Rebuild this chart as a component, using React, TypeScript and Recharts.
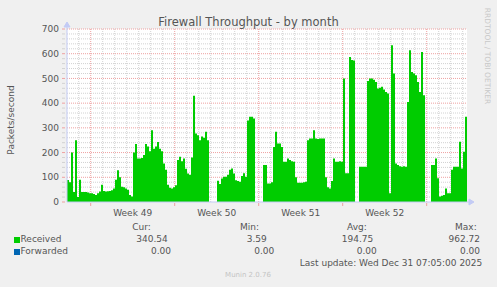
import { AreaChart, Area, XAxis, YAxis, CartesianGrid, ReferenceDot } from 'recharts';

// packets/second, one sample per 4 hours (2px), null = no data
const received1 = [
  89, 80, 200, 40, 250, 20, 90, 40, 40, 40,
  38, 35, 35, 32, 28, 35, 42, 70, 45, 42,
  44, 45, 48, 55, 90, 128, 100, 62, 60, 55,
  50, 28, 22, 200, 235, 176, 176, 178, 190, 235,
];
const received2 = [
  225, 205, 290, 215, 225, 243, 215, 205, 156, 130,
  70, 58, 55, 60, 68, 170, 183, 165, 176, 135,
  115, 110, 180, 430, 277, 270, 250, 265, 260, 284,
  250, 203, null, null, null, 86, 73, 95, 102, 102,
];
const received3 = [
  110, 130, 136, 115, 88, 85, 82, 105, 116, 102,
  330, 345, 345, 338, 432, null, null, null, 150, 150,
  75, 75, 80, 223, 284, 237, 237, 223, 163, 163,
  176, 170, 165, 163, 100, 78, 78, 78, 80, 82,
];
const received4 = [
  250, 257, 257, 290, 257, 255, 257, 257, 257, 100,
  60, 55, 85, 176, 163, 163, 165, 163, 500, 116,
  116, 587, 575, 573, 500, null, 143, 143, 143, 143,
  490, 500, 500, 495, 486, 459, 462, 466, 455, 445,
];
const received5 = [
  439, 35, 634, 520, 156, 150, 145, 143, 145, 143,
  405, 614, 526, 520, 513, 486, 445, 607, 432, 490,
  null, null, 150, 150, 176, 96, 22, 25, 28, 55,
  35, 35, 130, 143, 143, 143, 244, 136, 203, 345,
];

const weekLabels = ['Week 49', 'Week 50', 'Week 51', 'Week 52'];
const weekCenters = [32.85, 74.85, 116.85, 158.85];
const weekLines = [11.85, 53.85, 95.85, 137.85, 179.85];
const dayLines = [
  5.85, 17.85, 23.85, 29.85, 35.85, 41.85, 47.85, 59.85, 65.85, 71.85, 77.85, 83.85, 89.85,
  101.85, 107.85, 113.85, 119.85, 125.85, 131.85, 143.85, 149.85, 155.85, 161.85, 167.85,
  173.85, 185.85, 191.85, 197.85,
];
const yMajor = [100, 200, 300, 400, 500, 600, 700];
const yMinor = [
  20, 40, 60, 80, 120, 140, 160, 180, 220, 240, 260, 280, 320, 340, 360, 380,
  420, 440, 460, 480, 520, 540, 560, 580, 620, 640, 660, 680,
];
const yTicks = [0, ...yMinor, ...yMajor].sort((a, b) => a - b);

const statLabels = ['Cur:', 'Min:', 'Avg:', 'Max:'];
const receivedStats = ['340.54', '3.59', '194.75', '962.72'];
const forwardedStats = ['0.00', '0.00', '0.00', '0.00'];

const X_DOMAIN = [0, 200];
const Y_DOMAIN = [0, 700];

const received = [...received1, ...received2, ...received3, ...received4, ...received5];
const rows = received.map((v, i) => ({ t: i, received: v }));
rows.push({ t: received.length, received: received[received.length - 1] });

const FONT = 'DejaVu Sans';
const TXT = '#555555';
const MAJOR = '#eea0a0';
const MINOR = '#d2d2d2';
const AXIS = '#c3cbf5';

// map a value through the axis scale handed to the grid generator
function scaleOf(axis: any, v: number, lo: number, len: number, dom: number[], flip: boolean) {
  const s = axis && axis.scale;
  if (typeof s === 'function') return s(v);
  if (s && typeof s.map === 'function') return s.map(v);
  const f = (v - dom[0]) / (dom[1] - dom[0]);
  return flip ? lo + len * (1 - f) : lo + len * f;
}
const xs = (p: any, vals: number[]) =>
  vals.map((v) => scaleOf(p.xAxis, v, p.offset.left, p.offset.width, X_DOMAIN, false));
const ys = (p: any, vals: number[]) =>
  vals.map((v) => scaleOf(p.yAxis, v, p.offset.top, p.offset.height, Y_DOMAIN, true));

function XTick(props: any) {
  const { x, y, payload } = props;
  const wi = weekLines.indexOf(payload.value);
  if (wi >= 0) {
    return <line x1={x} x2={x} y1={y - 7} y2={y - 4} stroke={MAJOR} />;
  }
  const ci = weekCenters.indexOf(payload.value);
  return (
    <text x={x} y={y} dy="0.71em" textAnchor="middle" fill={TXT} fontSize={9} fontFamily={FONT}>
      {weekLabels[ci]}
    </text>
  );
}

function YTick(props: any) {
  const { x, y, payload } = props;
  const major = payload.value % 100 === 0;
  return (
    <g>
      <line x1={x + 3} x2={x + 6} y1={y} y2={y} stroke={major ? MAJOR : MINOR} />
      {major && (
        <text x={x} y={y} dy="0.355em" textAnchor="end" fill={TXT} fontSize={9} fontFamily={FONT}>
          {payload.value}
        </text>
      )}
    </g>
  );
}

const abs = (s: any) => ({
  position: 'absolute' as const,
  fontFamily: FONT,
  fontSize: 9,
  color: TXT,
  lineHeight: '12px',
  whiteSpace: 'nowrap' as const,
  ...s,
});

const headRight = [150.7, 259, 366.7, 476.7];
const recRight = [167.7, 266.7, 373.3, 480];
const fwdRight = [171, 274.3, 376.7, 480];

export default function App() {
  return (
    <div style={{ position: 'absolute', left: 0, top: 0, width: 497, height: 287, background: '#f0f0f0', overflow: 'hidden' }}>
      <AreaChart width={497} height={287} data={rows} margin={{ top: 29, right: 30, bottom: 55, left: 27 }}>
        <CartesianGrid
          fill="#ffffff"
          stroke={MINOR}
          strokeDasharray="1 1"
          horizontalCoordinatesGenerator={(p: any) => ys(p, yMinor)}
          verticalCoordinatesGenerator={(p: any) => xs(p, dayLines)}
        />
        <CartesianGrid
          stroke={MAJOR}
          strokeDasharray="1 1"
          horizontalCoordinatesGenerator={(p: any) => ys(p, yMajor)}
          verticalCoordinatesGenerator={(p: any) => xs(p, weekLines)}
        />
        <XAxis
          type="number"
          dataKey="t"
          domain={X_DOMAIN}
          ticks={[...weekLines, ...weekCenters].sort((a, b) => a - b)}
          interval={0}
          height={30}
          tickLine={false}
          axisLine={{ stroke: AXIS }}
          tick={<XTick />}
        />
        <YAxis
          type="number"
          domain={Y_DOMAIN}
          ticks={yTicks}
          interval={0}
          width={40}
          tickLine={false}
          axisLine={{ stroke: AXIS }}
          tick={<YTick />}
        />
        <Area
          type="stepAfter"
          dataKey="received"
          fill="#00cc00"
          fillOpacity={1}
          stroke="none"
          isAnimationActive={false}
          dot={false}
          activeDot={false}
        />
        <ReferenceDot
          x={200}
          y={0}
          ifOverflow="visible"
          shape={(p: any) => (
            <path d={`M${p.cx},${p.cy} L${p.cx + 2},${p.cy} M${p.cx + 2},${p.cy - 3} L${p.cx + 7},${p.cy} L${p.cx + 2},${p.cy + 3} Z`} stroke={AXIS} fill={AXIS} />
          )}
        />
        <ReferenceDot
          x={0}
          y={700}
          ifOverflow="visible"
          shape={(p: any) => (
            <path d={`M${p.cx},${p.cy} L${p.cx},${p.cy - 2} M${p.cx - 3},${p.cy - 2} L${p.cx},${p.cy - 7} L${p.cx + 3},${p.cy - 2} Z`} stroke={AXIS} fill={AXIS} />
          )}
        />
      </AreaChart>

      <div style={abs({ left: 0, width: 497, top: 14.5, textAlign: 'center', fontSize: 11.5, lineHeight: '14px' })}>
        Firewall Throughput - by month
      </div>
      <div style={abs({ left: 10.5, top: 120, transform: 'translate(-50%, -50%) rotate(-90deg)' })}>Packets/second</div>
      <div style={abs({ left: 487, top: 56, fontSize: 7.5, color: '#c8c8c8', transform: 'translate(-50%, -50%) rotate(90deg)' })}>
        RRDTOOL / TOBI OETIKER
      </div>

      {statLabels.map((s, i) => (
        <div key={s} style={abs({ right: 497 - headRight[i], top: 221.3 })}>{s}</div>
      ))}
      <div style={{ position: 'absolute', left: 14, top: 236.5, width: 6, height: 6, background: '#00cc00' }} />
      <div style={abs({ left: 20.5, top: 233.3 })}>Received</div>
      {receivedStats.map((s, i) => (
        <div key={'r' + i} style={abs({ right: 497 - recRight[i], top: 233.3 })}>{s}</div>
      ))}
      <div style={{ position: 'absolute', left: 14, top: 248.5, width: 6, height: 6, background: '#0066b3' }} />
      <div style={abs({ left: 20.5, top: 245.3 })}>Forwarded</div>
      {forwardedStats.map((s, i) => (
        <div key={'f' + i} style={abs({ right: 497 - fwdRight[i], top: 245.3 })}>{s}</div>
      ))}
      <div style={abs({ right: 497 - 482.3, top: 256.7 })}>Last update: Wed Dec 31 07:05:00 2025</div>
      <div style={abs({ left: 0, width: 496, top: 269, textAlign: 'center', fontSize: 7, color: '#c4c4c4' })}>Munin 2.0.76</div>
    </div>
  );
}
